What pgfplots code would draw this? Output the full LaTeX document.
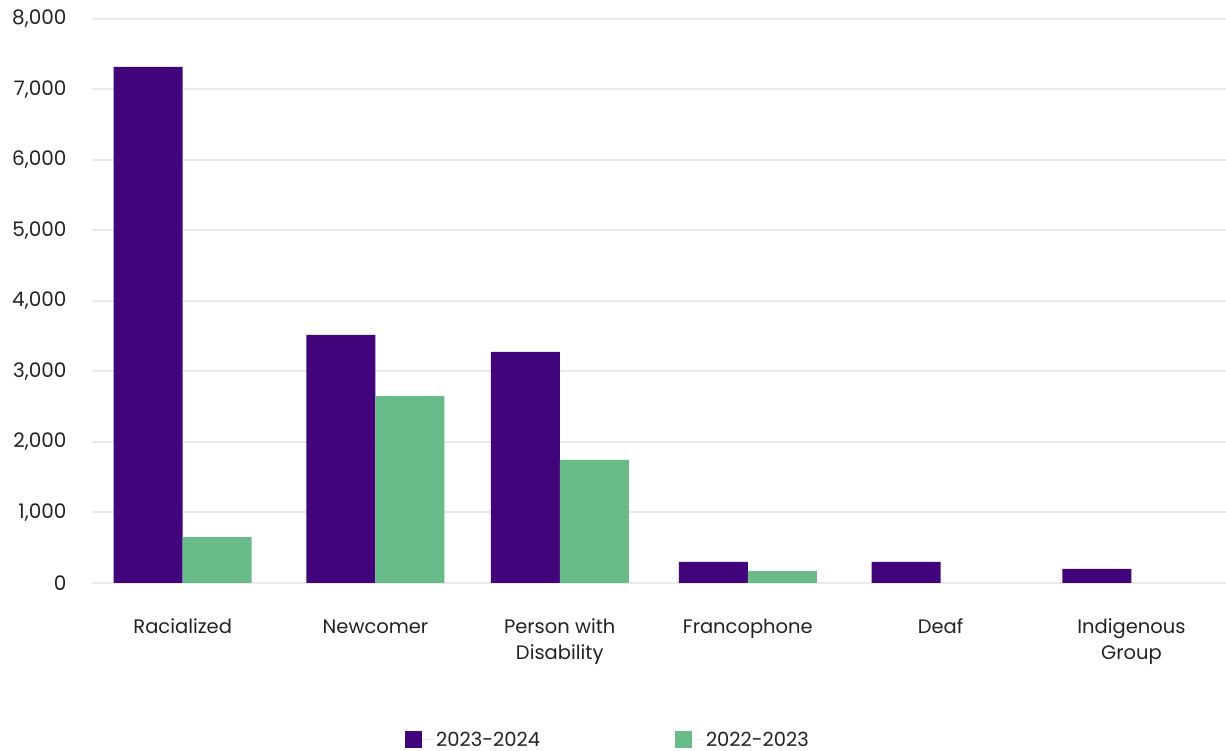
\documentclass[border=0pt]{standalone}
\usepackage{pgfplots}
\pgfplotsset{compat=1.18}
\usepackage{fontspec}
\setmainfont{Poppins}
\definecolor{barpurple}{RGB}{66,4,122}
\definecolor{bargreen}{RGB}{105,188,138}
\definecolor{gridgray}{RGB}{234,234,234}
\definecolor{labeltext}{RGB}{34,34,34}
\begin{document}
\begin{tikzpicture}[x=1pt,y=1pt]
\useasboundingbox (0,0) rectangle (1226,751);
\begin{axis}[
  at={(92pt,168pt)}, anchor=south west,
  scale only axis, width=1134pt, height=564pt,
  xmin=-0.5, xmax=5.5, ymin=0, ymax=8000,
  ybar=0pt, bar width=69pt,
  axis line style={draw=none},
  major tick length=0pt,
  ytick={0,1000,...,8000},
  ymajorgrids, grid style={gridgray, line width=2pt},
  xtick={-0.02,1.0,1.975,2.97,3.99,5.0},
  xticklabels={\strut Racialized, \strut Newcomer, {\strut Person with\\Disability}, \strut Francophone, \strut Deaf, {\strut Indigenous\\Group}},
  xticklabel style={align=center, font=\fontsize{19.5}{26}\selectfont, text=labeltext, anchor=north, yshift=-29pt},
  yticklabel style={font=\fontsize{20}{22}\selectfont, text=labeltext, anchor=east, xshift=-22pt},
  /pgf/number format/assume math mode=true,
  /pgf/number format/1000 sep={,},
  scaled y ticks=false,
  legend columns=2,
  legend style={draw=none, fill=none, inner sep=0pt, at={(0.276,-0.278)}, anchor=west,
    font=\fontsize{19.5}{22}\selectfont, text=labeltext,
    /tikz/every even column/.append style={column sep=133pt}},
  legend image code/.code={\fill[#1] (0pt,-8.5pt) rectangle (17pt,8.5pt); \path (0pt,0pt) -- (29pt,0pt);},
  every axis legend/.append style={cells={anchor=west}},
]
\addplot[fill=barpurple, draw=none] coordinates {(-0.02,7320) (1.0,3520) (1.975,3280) (2.97,300) (3.99,300) (5.0,200)};
\addplot[fill=bargreen, draw=none] coordinates {(-0.02,650) (1.0,2650) (1.975,1745) (2.97,170)};
\legend{2023-2024, 2022-2023}
\end{axis}
\end{tikzpicture}
\end{document}
